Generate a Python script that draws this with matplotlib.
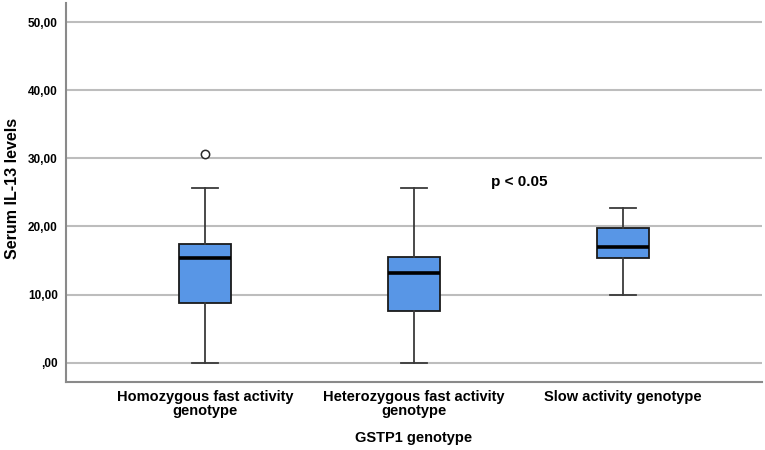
import matplotlib
matplotlib.use("Agg")
import matplotlib.pyplot as plt

# values (Serum IL-13 by GSTP1 genotype)
genotypes = ["Homozygous fast activity\ngenotype",
             "Heterozygous fast activity\ngenotype",
             "Slow activity genotype"]
whis_low = [0.0, 0.0, 10.0]
q1 = [8.8, 7.55, 15.4]
median = [15.4, 13.2, 16.95]
q3 = [17.45, 15.45, 19.7]
whis_high = [25.65, 25.7, 22.7]
outliers = [[30.65], [], []]
yticks = [0, 10, 20, 30, 40, 50]
ytick_labels = [",00", "10,00", "20,00", "30,00", "40,00", "50,00"]

plt.rcParams['font.family'] = ['Liberation Sans', 'DejaVu Sans']

stats = []
for i in range(len(genotypes)):
    stats.append(dict(whislo=whis_low[i], q1=q1[i], med=median[i], q3=q3[i],
                      whishi=whis_high[i], fliers=outliers[i], label=genotypes[i]))

fig = plt.figure(figsize=(7.65, 4.5), dpi=100)
ax = fig.add_axes([66/765, 1 - 381.7/450, 696/765, 378.7/450])

for y in yticks:
    ax.axhline(y, color='#bdbdbd', lw=1.5, zorder=0)

ax.bxp(stats, positions=range(len(genotypes)), widths=0.25, patch_artist=True,
       boxprops=dict(facecolor='#5896e6', edgecolor='#1a1a1a', linewidth=1.3),
       medianprops=dict(color='black', linewidth=2.6),
       whiskerprops=dict(color='#3a3a3a', linewidth=1.3),
       capprops=dict(color='#3a3a3a', linewidth=1.3),
       capwidths=0.125,
       flierprops=dict(marker='o', markerfacecolor='white', markeredgecolor='#2a2a2a',
                       markersize=6, markeredgewidth=1.1))

ax.set_xlim(-0.665, 2.665)
ax.set_ylim(-2.8, 52.8)
ax.set_yticks(yticks)
ax.set_yticklabels(ytick_labels, fontsize=8.5, fontweight='bold')
ax.set_xticks(range(len(genotypes)))
ax.set_xticklabels(genotypes, fontsize=10.5, fontweight='bold', linespacing=1.0)
ax.tick_params(axis='x', length=0, pad=6)
ax.tick_params(axis='y', length=0, pad=6)

for s in ['top', 'right']:
    ax.spines[s].set_visible(False)
for s in ['left', 'bottom']:
    ax.spines[s].set_color('#8a8a8a')
    ax.spines[s].set_linewidth(1.5)

ax.set_ylabel("Serum IL-13 levels", fontsize=11.5, fontweight='bold')
ax.yaxis.set_label_coords(-0.066, 0.51)
ax.set_xlabel("GSTP1 genotype", fontsize=10.5, fontweight='bold', labelpad=9)
ax.text(1.37, 26.5, "p < 0.05", fontsize=11, fontweight='bold', va='center', ha='left')

fig.savefig("out.png", dpi=100)
